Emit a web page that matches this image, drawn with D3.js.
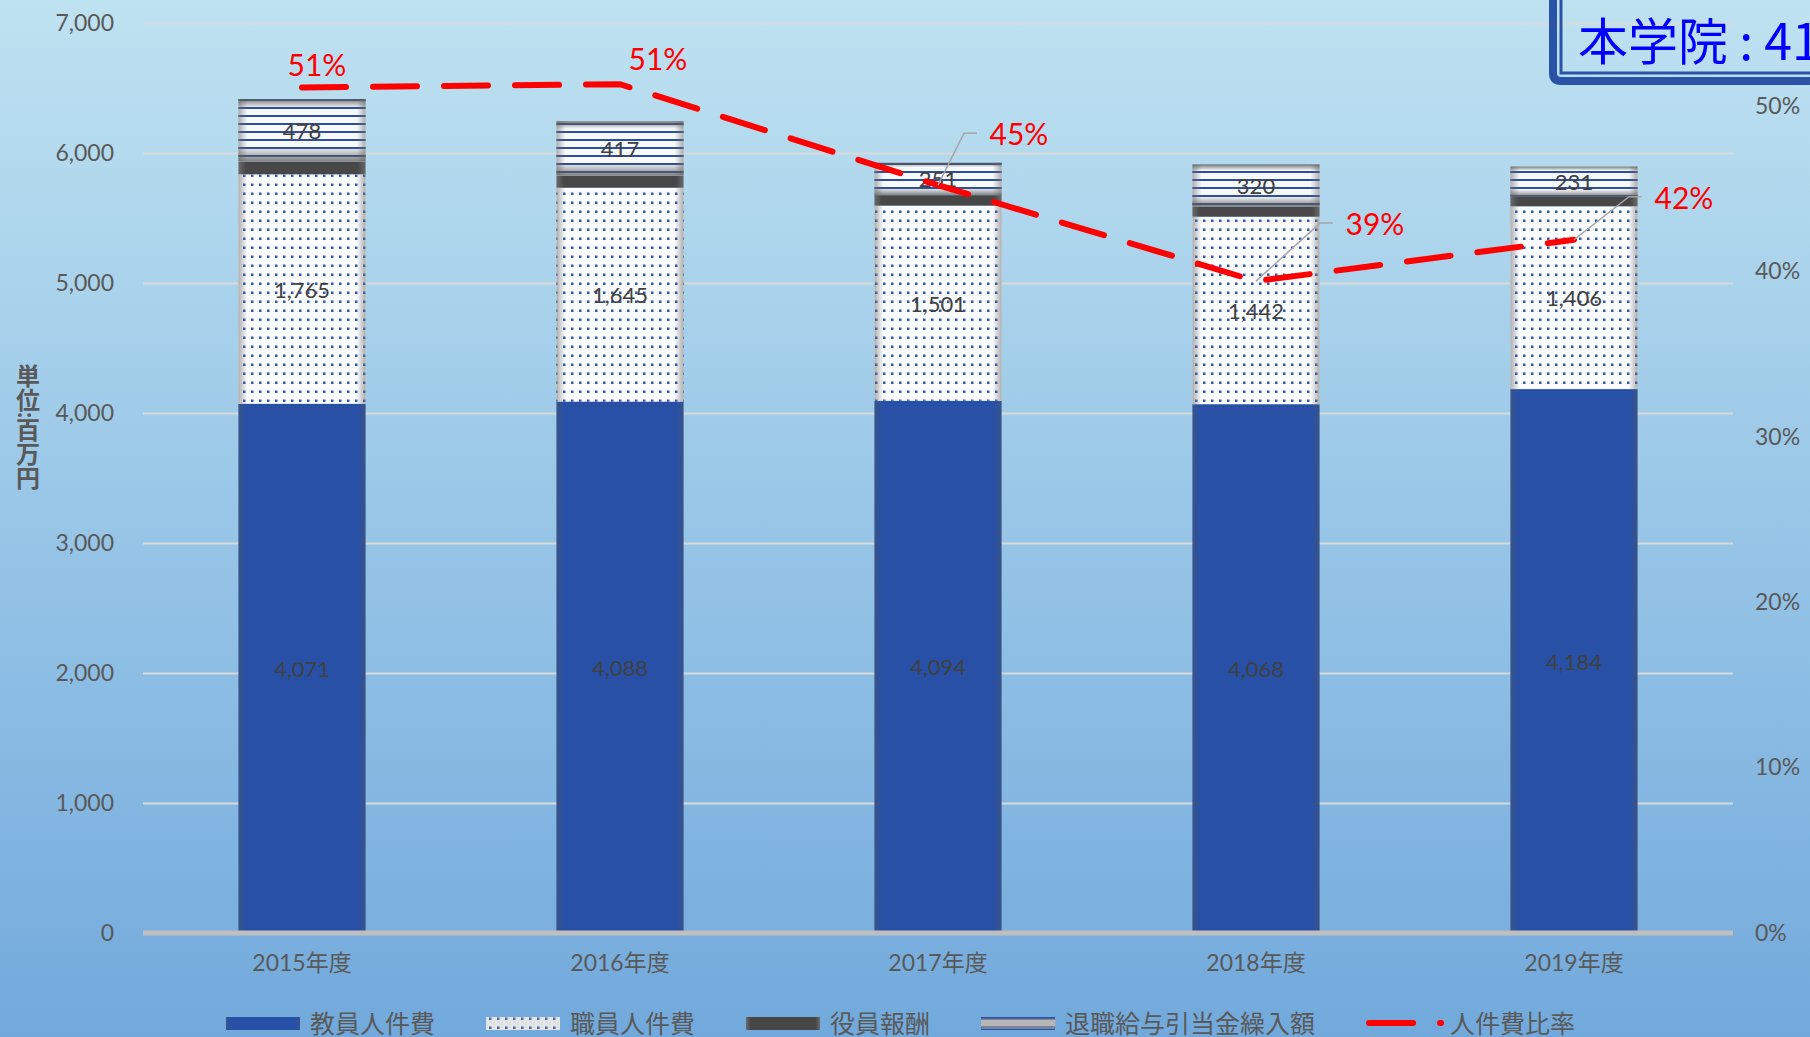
<!DOCTYPE html>
<html>
<head>
<meta charset="utf-8">
<script src="https://cdn.jsdelivr.net/npm/d3@7"></script>
<style>
    html, body {margin: 0; padding: 0; overflow: hidden;}
    text {font-family: "Lato", "Noto Sans CJK JP", sans-serif;}
</style>
</head>
<body>
<svg id="chart" width="1810" height="1037"></svg>
<script>
const years = ["2015年度", "2016年度", "2017年度", "2018年度", "2019年度"];
const faculty = [4071, 4088, 4094, 4068, 4184];      // 教員人件費
const staff = [1765, 1645, 1501, 1442, 1406];        // 職員人件費
const officers = [100, 95, 80, 80, 75];              // 役員報酬
const retirement = [478, 417, 251, 320, 231];        // 退職給与引当金繰入額
const ratio = [0.511, 0.513, 0.452, 0.394, 0.419];   // 人件費比率
const seriesNames = ["教員人件費", "職員人件費", "役員報酬", "退職給与引当金繰入額", "人件費比率"];
const leftTicks = [0, 1000, 2000, 3000, 4000, 5000, 6000, 7000];
const rightTicks = [0, 0.1, 0.2, 0.3, 0.4, 0.5];

// label placement for the ratio line (offset from point)
const labelOffsets = [[15, -24], [38, -26], [81, -52], [119, -58], [110, -43]];
const leaders = [false, false, true, true, true];

const width = 1810, height = 1037;
const margin = {top: 23, right: 77, bottom: 104, left: 143};
const svg = d3.select("#chart");
const defs = svg.append("defs");

// background
const bg = defs.append("linearGradient").attr("id", "bg").attr("x1", 0).attr("y1", 0).attr("x2", 0).attr("y2", 1);
bg.append("stop").attr("offset", "0%").attr("stop-color", "#bfe2f1");
bg.append("stop").attr("offset", "50%").attr("stop-color", "#98c6e7");
bg.append("stop").attr("offset", "100%").attr("stop-color", "#72a9dc");
svg.append("rect").attr("width", width).attr("height", height).attr("fill", "url(#bg)");

// patterns
const dots = defs.append("pattern").attr("id", "dots").attr("patternUnits", "userSpaceOnUse")
    .attr("width", 8).attr("height", 9);
dots.append("rect").attr("width", 8).attr("height", 9).attr("fill", "#fbfcfe");
dots.append("rect").attr("x", 3).attr("y", 3.5).attr("width", 2.5).attr("height", 2.5).attr("fill", "#2f58b0");

const stripes = defs.append("pattern").attr("id", "stripes").attr("patternUnits", "userSpaceOnUse")
    .attr("width", 8).attr("height", 8);
stripes.append("rect").attr("width", 8).attr("height", 8).attr("fill", "#f7f8fa");
stripes.append("rect").attr("y", 3).attr("width", 8).attr("height", 2).attr("fill", "#2c4f9e");

function hGrad(id, edge, mid, w) {
    const g = defs.append("linearGradient").attr("id", id);
    g.append("stop").attr("offset", "0%").attr("stop-color", edge);
    g.append("stop").attr("offset", w + "%").attr("stop-color", mid);
    g.append("stop").attr("offset", (100 - w) + "%").attr("stop-color", mid);
    g.append("stop").attr("offset", "100%").attr("stop-color", edge);
}
hGrad("facultyFill", "#3a5388", "#2750a6", 6);
hGrad("officerFill", "#6a6a6a", "#474747", 6);
hGrad("edgeShade", "rgba(110,110,110,0.55)", "rgba(110,110,110,0)", 7);

const vShade = defs.append("linearGradient").attr("id", "vShade").attr("x1", 0).attr("y1", 0).attr("x2", 0).attr("y2", 1);
vShade.append("stop").attr("offset", "0%").attr("stop-color", "rgba(90,90,90,0.8)");
vShade.append("stop").attr("offset", "14%").attr("stop-color", "rgba(90,90,90,0)");
vShade.append("stop").attr("offset", "76%").attr("stop-color", "rgba(90,90,90,0)");
vShade.append("stop").attr("offset", "100%").attr("stop-color", "rgba(90,90,90,0.75)");

const fills = ["url(#facultyFill)", "url(#dots)", "url(#officerFill)", "url(#stripes)"];

// scales
const x = d3.scaleBand().domain(years)
    .range([margin.left, width - margin.right])
    .paddingInner(0.6).paddingOuter(0.3);
const y = d3.scaleLinear().domain([0, 7000]).range([height - margin.bottom, margin.top]);
const y2 = d3.scaleLinear().domain([0, 0.55]).range([height - margin.bottom, margin.top]);

// gridlines + left axis
svg.append("g")
    .attr("transform", `translate(${margin.left},0)`)
    .call(d3.axisLeft(y).tickValues(leftTicks).tickFormat(d3.format(","))
        .tickSize(-(width - margin.left - margin.right)).tickPadding(29))
    .call(g => g.select(".domain").remove())
    .call(g => g.selectAll(".tick line").attr("stroke", "#d9d9d9").attr("stroke-width", 2))
    .call(g => g.selectAll(".tick text").attr("fill", "#595959").attr("font-size", 23));

// right axis
svg.append("g")
    .attr("transform", `translate(${width - margin.right},0)`)
    .call(d3.axisRight(y2).tickValues(rightTicks).tickFormat(d3.format(".0%")).tickSize(0).tickPadding(22))
    .call(g => g.select(".domain").remove())
    .call(g => g.selectAll(".tick text").attr("fill", "#595959").attr("font-size", 23));

// stacked bars
const table = years.map((yr, i) => ({year: yr, a: faculty[i], b: staff[i], c: officers[i], d: retirement[i]}));
const stack = d3.stack().keys(["a", "b", "c", "d"])(table);

const layers = svg.append("g").selectAll("g").data(stack).join("g");
layers.each(function (s, k) {
    const g = d3.select(this);
    g.selectAll("rect.seg").data(s).join("rect").attr("class", "seg")
        .attr("x", d => x(d.data.year))
        .attr("y", d => y(d[1]))
        .attr("width", x.bandwidth())
        .attr("height", d => y(d[0]) - y(d[1]))
        .attr("fill", fills[k]);
    if (k === 1 || k === 3) {
        g.selectAll("rect.shade").data(s).join("rect").attr("class", "shade")
            .attr("x", d => x(d.data.year))
            .attr("y", d => y(d[1]))
            .attr("width", x.bandwidth())
            .attr("height", d => y(d[0]) - y(d[1]))
            .attr("fill", "url(#edgeShade)");
    }
    if (k === 3) {
        g.selectAll("rect.vshade").data(s).join("rect").attr("class", "vshade")
            .attr("x", d => x(d.data.year))
            .attr("y", d => y(d[1]))
            .attr("width", x.bandwidth())
            .attr("height", d => y(d[0]) - y(d[1]))
            .attr("fill", "url(#vShade)");
    }
});

// baseline
svg.append("line")
    .attr("x1", margin.left).attr("x2", width - margin.right)
    .attr("y1", y(0)).attr("y2", y(0))
    .attr("stroke", "#bfbfbf").attr("stroke-width", 5);

// value labels (all but 役員報酬)
stack.filter((s, k) => k !== 2).forEach(s => {
    svg.append("g").selectAll("text").data(s).join("text")
        .attr("x", d => x(d.data.year) + x.bandwidth() / 2)
        .attr("y", d => (y(d[0]) + y(d[1])) / 2)
        .attr("text-anchor", "middle")
        .attr("dominant-baseline", "central")
        .attr("font-size", 22)
        .attr("fill", "#404040")
        .text(d => d3.format(",")(d[1] - d[0]));
});

// ratio line
const cx = i => x(years[i]) + x.bandwidth() / 2;
const line = d3.line().x((d, i) => cx(i)).y(d => y2(d));
svg.append("path")
    .datum(ratio)
    .attr("fill", "none")
    .attr("stroke", "#ff0000")
    .attr("stroke-width", 6)
    .attr("stroke-linecap", "round")
    .attr("stroke-dasharray", "44,27")
    .attr("d", line);

// ratio labels + leader lines
ratio.forEach((r, i) => {
    const px = cx(i), py = y2(r);
    const lx = px + labelOffsets[i][0], ly = py + labelOffsets[i][1];
    if (leaders[i]) {
        const left = lx - 32;
        svg.append("polyline")
            .attr("points", `${px},${py} ${left - 23},${ly} ${left - 10},${ly}`)
            .attr("fill", "none").attr("stroke", "#a6a6a6").attr("stroke-width", 1.5);
    }
    svg.append("text")
        .attr("x", lx).attr("y", ly)
        .attr("text-anchor", "middle")
        .attr("dominant-baseline", "central")
        .attr("font-size", 30)
        .attr("fill", "#ff0000")
        .text(d3.format(".0%")(r));
});

// x axis labels
svg.append("g")
    .attr("transform", `translate(0,${y(0)})`)
    .call(d3.axisBottom(x).tickSize(0).tickPadding(22))
    .call(g => g.select(".domain").remove())
    .call(g => g.selectAll(".tick text").attr("fill", "#595959").attr("font-size", 23));

// y axis title
svg.append("text")
    .attr("x", 27).attr("y", 427)
    .attr("text-anchor", "middle")
    .style("writing-mode", "vertical-rl")
    .attr("font-size", 24)
    .attr("font-weight", "bold")
    .attr("fill", "#595959")
    .text("単位:百万円");

// legend
const legend = svg.append("g").attr("transform", "translate(226,1023)");
let lx = 0;
seriesNames.forEach((name, k) => {
    const item = legend.append("g").attr("transform", `translate(${lx},0)`);
    if (k < 4) {
        item.append("rect").attr("y", -6).attr("width", 74).attr("height", 13).attr("fill", fills[k]);
        if (k === 1 || k === 3) {
            item.append("rect").attr("y", -6).attr("width", 74).attr("height", 13).attr("fill", "#9a9a9a").attr("opacity", k === 3 ? 0.7 : 0.25);
            if (k === 3) {
                item.append("rect").attr("y", -6).attr("width", 74).attr("height", 1.5).attr("fill", "#2c4f9e");
                item.append("rect").attr("y", 5.5).attr("width", 74).attr("height", 1.5).attr("fill", "#2c4f9e");
            }
        }
    } else {
        item.append("line").attr("x1", 3).attr("x2", 75).attr("y1", 0).attr("y2", 0)
            .attr("stroke", "#ff0000").attr("stroke-width", 6)
            .attr("stroke-linecap", "round").attr("stroke-dasharray", "44,27");
    }
    const t = item.append("text")
        .attr("x", 84).attr("dominant-baseline", "central")
        .attr("font-size", 25).attr("fill", "#595959")
        .text(name);
    lx += 84 + t.node().getComputedTextLength() + 51;
});

// title box (top right), runs past the edge like the original
const box = svg.append("g");
box.append("path")
    .attr("d", "M1553,-10 L1553,73 Q1553,81 1561,81 L1820,81")
    .attr("fill", "none").attr("stroke", "#2a52a5").attr("stroke-width", 8);
box.append("path")
    .attr("d", "M1561,-10 L1561,73 L1820,73")
    .attr("fill", "none").attr("stroke", "#2a52a5").attr("stroke-width", 3);
box.append("text")
    .attr("x", 1578).attr("y", 38)
    .attr("dominant-baseline", "central")
    .attr("font-size", 50)
    .attr("fill", "#0000ff")
    .style("font-family", "'Noto Sans CJK JP'")
    .text("本学院 : 41%");
</script>
</body>
</html>
